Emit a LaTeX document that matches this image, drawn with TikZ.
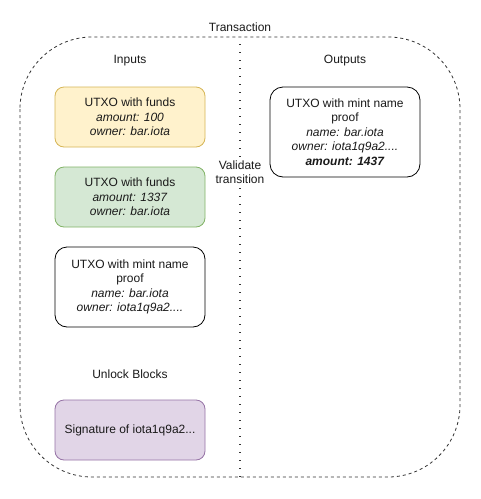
\documentclass[tikz,border=0pt]{standalone}
\usepackage{fontspec}
\setmainfont{Liberation Sans}
\definecolor{yfill}{HTML}{FFF2CC}\definecolor{ydraw}{HTML}{D6B656}
\definecolor{gfill}{HTML}{D5E8D4}\definecolor{gdraw}{HTML}{82B366}
\definecolor{pfill}{HTML}{E1D5E7}\definecolor{pdraw}{HTML}{9673A6}
\definecolor{txt}{HTML}{1A1A1A}
\tikzset{
  utxo/.style={draw, rounded corners=9pt, minimum width=150pt, line width=0.8pt, align=center, font=\fontsize{12}{14.5}\selectfont, text=txt, inner sep=0pt},
  lbl/.style={font=\fontsize{12}{14.5}\selectfont, text=txt, align=center, inner sep=0pt}
}
\begin{document}
\begin{tikzpicture}[x=1pt,y=-1pt]
\useasboundingbox (0,0) rectangle (481,499);
\fill[white] (0,0) rectangle (481,499);
\draw[dash pattern=on 3pt off 3pt, draw=black!80, line width=0.8pt, rounded corners=72pt] (20,37) rectangle (460,477);
\coordinate (vt) at (240,44);
\coordinate (vb) at (240,477);
\draw[line width=1.1pt, dash pattern=on 1.1pt off 6.9pt, draw=black!80] (vt) -- (vb);
\node[lbl] (tr) at (240,27) {Transaction};
\node[lbl] (in) at (130,61) {Inputs};
\node[lbl] (out) at (345,61) {Outputs};
\node[lbl, fill=white, inner sep=1pt] (val) at (240,172) {Validate\\transition};
\node[utxo, fill=yfill, draw=ydraw, minimum height=60pt] (b1) at (130,117) {UTXO with funds\\\textit{amount: 100}\\\textit{owner: bar.iota}};
\node[utxo, fill=gfill, draw=gdraw, minimum height=60pt] (b2) at (130,197) {UTXO with funds\\\textit{amount: 1337}\\\textit{owner: bar.iota}};
\node[utxo, fill=white, draw=black, minimum height=80pt, rounded corners=12pt] (b3) at (130,287) {UTXO with mint name\\proof\\\textit{name: bar.iota}\\\textit{owner: iota1q9a2....}};
\node[utxo, fill=white, draw=black, minimum height=90pt, rounded corners=13pt] (b4) at (345,132) {UTXO with mint name\\proof\\\textit{name: bar.iota}\\\textit{owner: iota1q9a2....}\\\textbf{\textit{amount: 1437}}};
\node[lbl] (ub) at (130,374) {Unlock Blocks};
\node[utxo, fill=pfill, draw=pdraw, minimum height=60pt] (b5) at (130,430) {Signature of iota1q9a2...};
\end{tikzpicture}
\end{document}
